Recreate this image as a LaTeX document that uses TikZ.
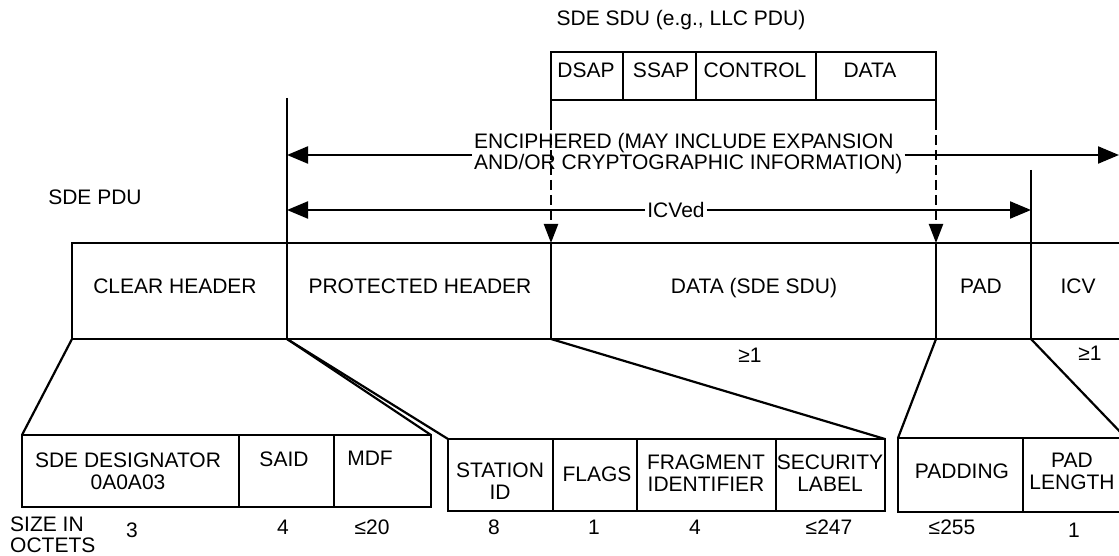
\documentclass[tikz,border=0pt]{standalone}
\usepackage{fontspec}
\setmainfont{Liberation Sans}
\usetikzlibrary{arrows.meta}
\begin{document}
\begin{tikzpicture}[x=1pt,y=-1pt,
  ln/.style={line width=2.2pt},
  txt/.style={inner sep=0pt, align=center, font=\fontsize{21}{22}\selectfont},
  harr/.style={line width=2.2pt, -{Triangle[length=21pt,width=17pt]}},
  varr/.style={line width=2.2pt, dash pattern=on 10pt off 5pt, -{Triangle[length=19pt,width=14pt]}},
  ]
\useasboundingbox (0,0) rectangle (1119,556);
\clip (0,0) rectangle (1119,556);

% ---------- coordinates ----------
\coordinate (mTL) at (72,243);   \coordinate (mBL) at (72,339);
\coordinate (mT1) at (287,98);   \coordinate (mB1) at (287,339);
\coordinate (mT2) at (551,243);  \coordinate (mB2) at (551,339);
\coordinate (mT3) at (936,243);  \coordinate (mB3) at (936,339);
\coordinate (mT4) at (1031,170); \coordinate (mB4) at (1031,339);
\coordinate (mTR) at (1125,243); \coordinate (mBR) at (1125,339);

\coordinate (g1TL) at (22,435);  \coordinate (g1BR) at (431,507);
\coordinate (g1TR) at (431,435);
\coordinate (g2TL) at (448,439); \coordinate (g2BR) at (885,511);
\coordinate (g2TR) at (885,439);
\coordinate (g3TL) at (898,438); \coordinate (g3BR) at (1126,512);
\coordinate (g3TR) at (1126,438);

% ---------- SDE SDU box ----------
\node[txt, anchor=base] (sdutitle) at (681,25.5) {SDE SDU (e.g., LLC PDU)};
\draw[ln] (551,120) -- (551,52) -- (936,52) -- (936,120);
\draw[ln] (551,100) -- (936,100);
\draw[ln] (623,52) -- (623,100);
\draw[ln] (696,52) -- (696,100);
\draw[ln] (816,52) -- (816,100);
\node[txt, anchor=base] (dsap) at (586,77.5) {DSAP};
\node[txt, anchor=base] (ssap) at (661,77.5) {SSAP};
\node[txt, anchor=base] (ctrl) at (755,77.5) {CONTROL};
\node[txt, anchor=base] (sdata) at (870,77.5) {DATA};
\coordinate (dL) at (551,120);
\coordinate (dR) at (936,120);
\draw[varr] (dL) -- (mT2);
\draw[varr] (dR) -- (mT3);

% ---------- span arrows ----------
\node[txt, align=left, anchor=north west, font=\fontsize{21}{21.5}\selectfont] (enc) at (474,133)
  {ENCIPHERED (MAY INCLUDE EXPANSION\\AND/OR CRYPTOGRAPHIC INFORMATION)};
\coordinate (encA) at (287,155);
\coordinate (encB) at (1119,155);
\draw[harr] ([xshift=-2pt]enc.west |- encA) -- (encA);
\draw[harr] ([xshift=2pt]enc.east |- encB) -- (encB);

\node[txt, anchor=base] (icved) at (676,217.5) {ICVed};
\coordinate (icvA) at (287,210);
\coordinate (icvB) at (1031,210);
\draw[harr] ([xshift=-2pt]icved.west |- icvA) -- (icvA);
\draw[harr] ([xshift=2pt]icved.east |- icvB) -- (icvB);

\node[txt, anchor=base] (sdepdu) at (95,204.5) {SDE PDU};

% ---------- main PDU ----------
\draw[ln] (mTR) -- (mTL) -- (mBL) -- (mBR);
\draw[ln] (mT1) -- (mB1);
\draw[ln] (mT2) -- (mB2);
\draw[ln] (mT3) -- (mB3);
\draw[ln] (mT4) -- (mB4);
\node[txt, anchor=base] (clear) at (175,293.5) {CLEAR HEADER};
\node[txt, anchor=base] (prot) at (420,293.5) {PROTECTED HEADER};
\node[txt, anchor=base] (data) at (754,293.5) {DATA (SDE SDU)};
\node[txt, anchor=base] (pad) at (981,293.5) {PAD};
\node[txt, anchor=base] (icv) at (1078,293.5) {ICV};
\node[txt, anchor=base] (geA) at (750,362) {≥1};
\node[txt, anchor=base] (geB) at (1090,360) {≥1};

% ---------- expansion lines ----------
\draw[ln] (mBL) -- (g1TL);
\draw[ln] (mB1) -- (g1TR);
\draw[ln] (mB1) -- (g2TL);
\draw[ln] (mB2) -- (g2TR);
\draw[ln] (mB3) -- (g3TL);
\draw[ln] (mB4) -- (g3TR);

% ---------- group 1 ----------
\draw[ln] (g1TL) rectangle (g1BR);
\draw[ln] (239,435) -- (239,507);
\draw[ln] (334,435) -- (334,507);
\node[txt] (desig) at (128,471) {SDE DESIGNATOR\\0A0A03};
\node[txt] (said) at (284,459) {SAID};
\node[txt] (mdf) at (370,458) {MDF};

% ---------- group 2 ----------
\draw[ln] (g2TL) rectangle (g2BR);
\draw[ln] (553,439) -- (553,511);
\draw[ln] (637,439) -- (637,511);
\draw[ln] (776,439) -- (776,511);
\node[txt] (stid) at (500,481.5) {STATION\\ID};
\node[txt] (flags) at (597,474) {FLAGS};
\node[txt] (frag) at (706,473) {FRAGMENT\\IDENTIFIER};
\node[txt] (sec) at (830,473) {SECURITY\\LABEL};

% ---------- group 3 ----------
\draw[ln] (g3TL) rectangle (g3BR);
\draw[ln] (1023,438) -- (1023,512);
\node[txt] (padding) at (962,471) {PADDING};
\node[txt] (padlen) at (1072,471.5) {PAD\\LENGTH};

% ---------- sizes ----------
\node[txt, align=left, anchor=north west, font=\fontsize{21}{20.5}\selectfont] (size) at (10,517) {SIZE IN\\OCTETS};
\node[txt, anchor=base] (s1) at (132,537) {3};
\node[txt, anchor=base] (s2) at (283,534.5) {4};
\node[txt, anchor=base] (s3) at (372,534.5) {≤20};
\node[txt, anchor=base] (s4) at (494,534.5) {8};
\node[txt, anchor=base] (s5) at (594,534.5) {1};
\node[txt, anchor=base] (s6) at (695,534.5) {4};
\node[txt, anchor=base] (s7) at (829,534.5) {≤247};
\node[txt, anchor=base] (s8) at (952,534.5) {≤255};
\node[txt, anchor=base] (s9) at (1074,537) {1};
\end{tikzpicture}
\end{document}
